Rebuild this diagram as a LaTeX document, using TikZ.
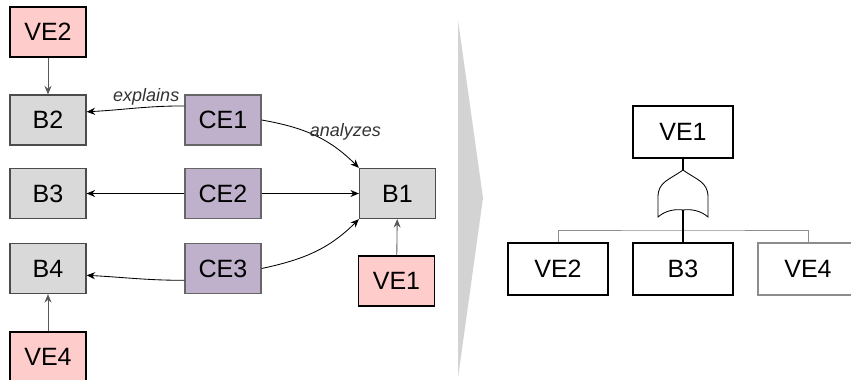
\documentclass[tikz,border=0pt]{standalone}
\usepackage{fontspec}
\setmainfont{Liberation Sans}
\usepackage{tikz}
\usetikzlibrary{positioning,arrows.meta}

\definecolor{vepink}{HTML}{FFCCCC}
\definecolor{bgray}{HTML}{D9D9D9}
\definecolor{ceviolet}{HTML}{BFB1CC}
\definecolor{wedgegray}{HTML}{D3D3D3}

\begin{document}
\begin{tikzpicture}[x=0.025cm, y=-0.025cm,
    box/.style={rectangle, line width=0.9pt, minimum width=1.9cm, minimum height=1.25cm,
        inner sep=0pt, font=\fontsize{17.8}{20}\selectfont},
    vebox/.style={box, draw=black, fill=vepink},
    bbox/.style={box, draw=black!70, fill=bgray},
    cebox/.style={box, draw=black!60, fill=ceviolet},
    ftbox/.style={box, draw=black, fill=white, minimum width=2.5cm, minimum height=1.3cm},
    rel/.style={-{Stealth[length=6pt, width=5pt]}, line width=0.6pt},
    feed/.style={-{Stealth[length=6pt, width=5pt]}, draw=black!65, line width=0.6pt},
    lbl/.style={font=\itshape\fontsize{12.8}{14}\selectfont, text=black!80}]

    \useasboundingbox (0,0) rectangle (851,380);

    % left: model
    \node[vebox] (ve2) at (48,32) {VE2};
    \node[bbox] (b2) at (48,120) {B2};
    \node[cebox] (ce1) at (223,120) {CE1};
    \node[bbox] (b3) at (48,193.5) {B3};
    \node[cebox] (ce2) at (223,193.5) {CE2};
    \node[bbox] (b1) at (397.5,193.5) {B1};
    \node[bbox] (b4) at (48,268.5) {B4};
    \node[cebox] (ce3) at (223,268.5) {CE3};
    \node[vebox] (ve1) at (396.5,281) {VE1};
    \node[vebox] (ve4) at (48,357) {VE4};

    \draw[rel] (ce1.160) to[out=180, in=3]
        node[lbl, above, pos=0.38, inner sep=1pt] {explains} (b2.12);
    \draw[rel] (ce1.east) to[out=-10, in=135]
        node[lbl, pos=0.55, anchor=south west, inner sep=1pt, xshift=-8pt, yshift=-3pt] {analyzes} (b1.north west);
    \draw[rel] (ce2) -- (b3);
    \draw[rel] (ce2) -- (b1);
    \draw[rel] (ce3.east) to[out=12, in=-135] (b1.south west);
    \draw[rel] (ce3.197) to[out=180, in=-3] (b4.-10);
    \draw[feed] (ve2) -- (b2);
    \draw[feed] (ve4) -- (b4);
    \draw[feed] (ve1) -- (b1);

    % transformation wedge
    \fill[wedgegray] (458,20) -- (483,198) -- (458,378) -- cycle;

    % right: fault tree
    \node[ftbox] (tve1) at (683,132) {VE1};
    \node[ftbox] (tve2) at (558,269) {VE2};
    \node[ftbox] (tb3) at (683,269) {B3};
    \node[ftbox, draw=black!45] (tve4) at (808,269) {VE4};

    \coordinate (gtop) at (683,170);
    \coordinate (gbot) at (683,210);
    \coordinate (bus) at (683,230);

    \draw[line width=0.6pt, fill=white] (gtop) .. controls (697,180) and (708,182) .. (708,197)
        -- (708,217) .. controls (700,210) and (690,209) .. (gbot)
        .. controls (676,209) and (666,210) .. (658,217) -- (658,197)
        .. controls (658,182) and (669,180) .. (gtop) -- cycle;

    \draw[draw=black!45, line width=0.6pt] (tve2.north) |- (bus) -| (tve4.north);
    \draw[line width=0.8pt] (tve1) -- (gtop);
    \draw[line width=0.8pt] (gbot) -- (tb3);
\end{tikzpicture}
\end{document}
